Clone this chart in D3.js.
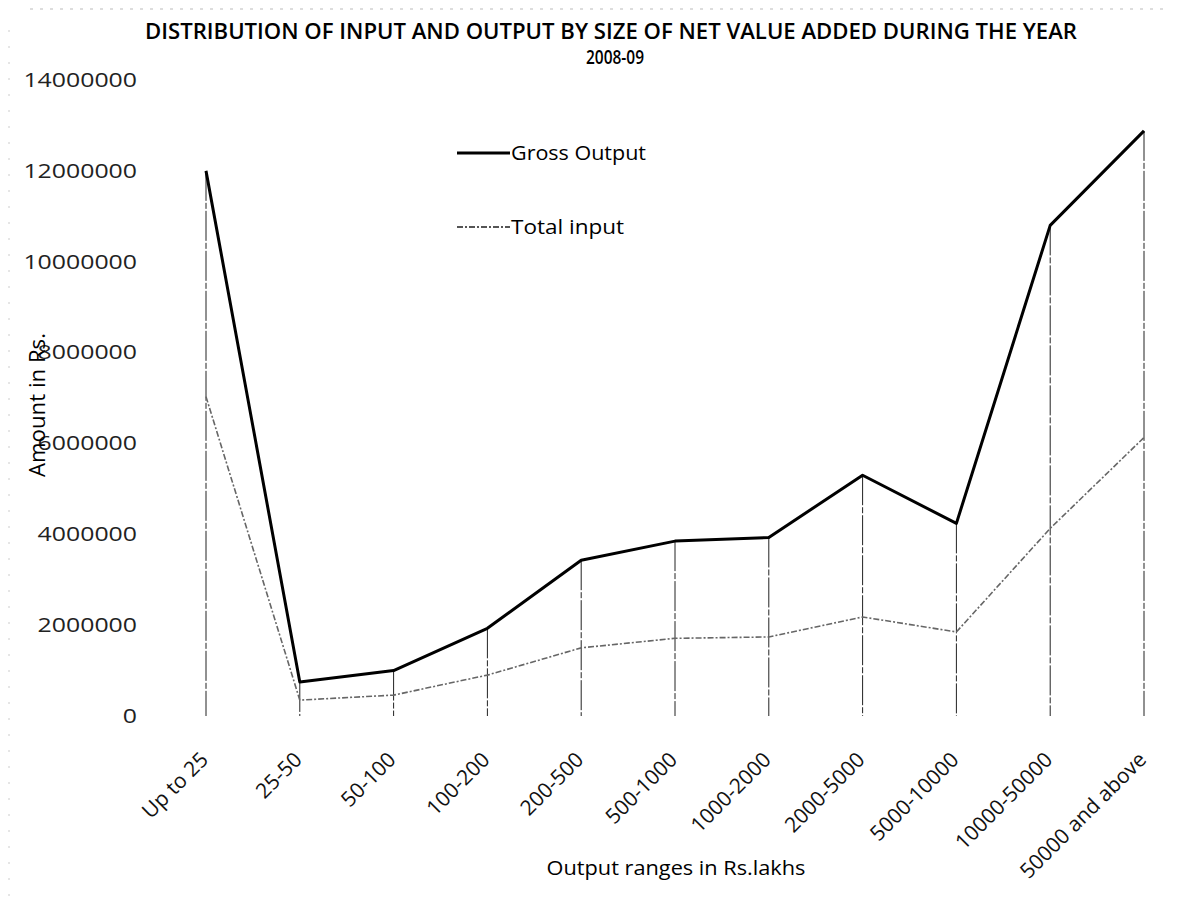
<!DOCTYPE html>
<html><head><meta charset="utf-8">
<script src="https://cdn.jsdelivr.net/npm/d3@7"></script>
<style>body{margin:0;background:#fff}svg{display:block}text{font-family:"Open Sans","Noto Sans",sans-serif}</style>
</head><body><svg id="c" width="1193" height="907"></svg>
<script>
const categories = ["Up to 25","25-50","50-100","100-200","200-500","500-1000","1000-2000","2000-5000","5000-10000","10000-50000","50000 and above"];
const grossOutput = [12000000,750000,1000000,1930000,3430000,3850000,3930000,5300000,4240000,10800000,12880000];
const totalInput = [7030000,350000,460000,900000,1500000,1710000,1740000,2180000,1850000,4130000,6130000];
const yTicks = [0,2000000,4000000,6000000,8000000,10000000,12000000,14000000];
const seriesNames = ["Gross Output","Total input"];

const svg = d3.select("#c");
const x = d3.scalePoint().domain(categories).range([206,1144]);
const y = d3.scaleLinear().domain([0,14000000]).range([716,80]);

// faint scan artifacts (page edges)
svg.append("line").attr("x1",30).attr("x2",1170).attr("y1",9).attr("y2",9)
  .attr("stroke","#bbb").attr("stroke-width",1).attr("stroke-dasharray","3,7");
svg.append("line").attr("x1",9).attr("x2",9).attr("y1",30).attr("y2",900)
  .attr("stroke","#ccc").attr("stroke-width",1).attr("stroke-dasharray","2,14");

// title
svg.append("text").attr("x",611).attr("y",39).attr("text-anchor","middle")
  .attr("font-size",22).attr("font-weight",600).attr("textLength",932).attr("lengthAdjust","spacingAndGlyphs")
  .text("DISTRIBUTION OF INPUT AND OUTPUT BY SIZE OF NET VALUE ADDED DURING THE YEAR");
svg.append("text").attr("x",615).attr("y",64).attr("text-anchor","middle")
  .attr("font-size",20).attr("font-weight",600).attr("textLength",58).attr("lengthAdjust","spacingAndGlyphs").text("2008-09");

// y axis (no line)
const yAxis = d3.axisLeft(y).tickValues(yTicks).tickSize(0).tickPadding(0).tickFormat(d3.format("d"));
const ga = svg.append("g").attr("transform","translate(137,0)").call(yAxis);
ga.select(".domain").remove();
ga.selectAll("text").attr("font-size",20).attr("fill","#222")
  .attr("font-family","'Open Sans',sans-serif")
  .each(function(d){ const s=String(d); d3.select(this).attr("textLength",s.length*14.2).attr("lengthAdjust","spacingAndGlyphs"); });

// y label
svg.append("text").attr("transform","translate(45,405) rotate(-90)").attr("text-anchor","middle")
  .attr("font-size",21).attr("textLength",144).attr("lengthAdjust","spacingAndGlyphs").text("Amount in Rs.");

// drop lines
svg.append("g").selectAll("line").data(categories).join("line")
  .attr("x1",d=>x(d)).attr("x2",d=>x(d))
  .attr("y1",(d,i)=>y(Math.max(grossOutput[i],totalInput[i])))
  .attr("y2",y(0))
  .attr("stroke","#222").attr("stroke-width",1).attr("stroke-dasharray","30,2,6,2");

// x axis labels
const xAxis = d3.axisBottom(x).tickSize(0).tickPadding(0);
const gx = svg.append("g").attr("transform","translate(0,738)").call(xAxis);
gx.select(".domain").remove();
gx.selectAll("text").attr("font-size",21).attr("fill","#111")
  .attr("text-anchor","end").attr("dy",0)
  .attr("transform","translate(3,23) rotate(-45)");

svg.append("text").attr("x",676).attr("y",875).attr("text-anchor","middle")
  .attr("font-size",20).attr("textLength",259).attr("lengthAdjust","spacingAndGlyphs").text("Output ranges in Rs.lakhs");

// lines
const line = d3.line().x((d,i)=>x(categories[i])).y(d=>y(d));
svg.append("path").datum(totalInput).attr("d",line).attr("fill","none")
  .attr("stroke","#666").attr("stroke-width",1.6).attr("stroke-dasharray","6,2,2,2");
svg.append("path").datum(grossOutput).attr("d",line).attr("fill","none")
  .attr("stroke","#000").attr("stroke-width",3).attr("stroke-linejoin","round");

// legend
const lg = [{name:seriesNames[0],y:153,c:"#000",w:3,da:null,len:135},{name:seriesNames[1],y:227,c:"#555",w:2,da:"6,2,2,2",len:113}];
lg.forEach(l=>{
  svg.append("line").attr("x1",457).attr("x2",510).attr("y1",l.y).attr("y2",l.y)
    .attr("stroke",l.c).attr("stroke-width",l.w).attr("stroke-dasharray",l.da);
  svg.append("text").attr("x",511).attr("y",l.y+7).attr("font-size",20)
    .attr("textLength",l.len).attr("lengthAdjust","spacingAndGlyphs").text(l.name);
});
</script></body></html>
